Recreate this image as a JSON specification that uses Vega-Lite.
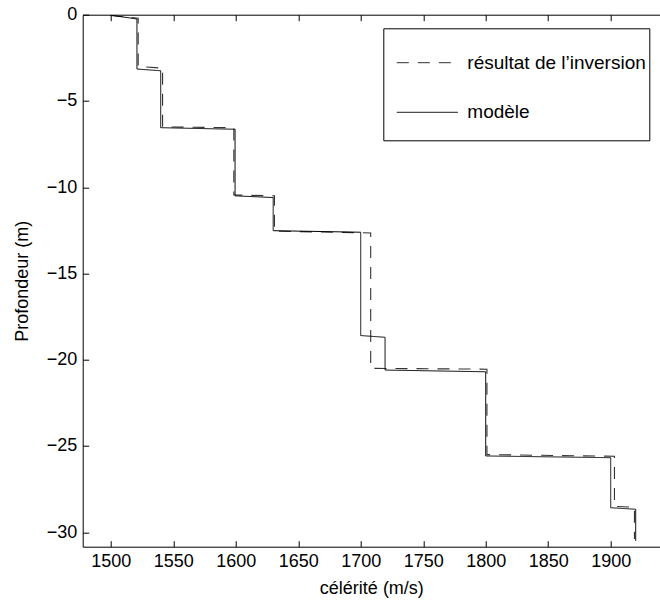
{
  "$schema": "https://vega.github.io/schema/vega-lite/v6.json",
  "autosize": "none",
  "width": 577.3,
  "height": 532,
  "padding": {"left": 82.7, "top": 14.7, "right": 0, "bottom": 54.3},
  "background": "white",
  "config": {
    "view": {"stroke": null},
    "font": "Liberation Sans",
    "axis": {
      "grid": false,
      "domainColor": "black",
      "domainWidth": 1,
      "tickColor": "black",
      "tickWidth": 1,
      "tickSize": -6,
      "labelColor": "black",
      "labelFont": "Liberation Sans",
      "labelFontSize": 18,
      "titleFont": "Liberation Sans",
      "titleFontSize": 18,
      "titleFontWeight": "normal",
      "titleColor": "black",
      "format": "d"
    },
    "legend": {
      "orient": "none",
      "legendX": 300.6,
      "legendY": 13.6,
      "strokeColor": "black",
      "strokeWidth": 1,
      "fillColor": "white",
      "padding": 3.4,
      "rowPadding": 8.6,
      "symbolOffset": 9.6,
      "symbolType": "stroke",
      "symbolSize": 3721,
      "symbolStrokeWidth": 1,
      "labelFont": "Liberation Sans",
      "labelFontSize": 19,
      "labelColor": "black",
      "labelOffset": 9,
      "labelLimit": 400,
      "titleOrient": "bottom",
      "titleFontSize": 10,
      "titlePadding": 4
    }
  },
  "data": {
    "values": [
      {"serie": "résultat de l’inversion", "i": 0, "x": 1500, "d": -0.05},
      {"serie": "résultat de l’inversion", "i": 1, "x": 1522, "d": -0.2},
      {"serie": "résultat de l’inversion", "i": 2, "x": 1522, "d": -3.0},
      {"serie": "résultat de l’inversion", "i": 3, "x": 1541.5, "d": -3.1},
      {"serie": "résultat de l’inversion", "i": 4, "x": 1541.5, "d": -6.5},
      {"serie": "résultat de l’inversion", "i": 5, "x": 1598.5, "d": -6.55},
      {"serie": "résultat de l’inversion", "i": 6, "x": 1598.5, "d": -10.45},
      {"serie": "résultat de l’inversion", "i": 7, "x": 1631, "d": -10.5},
      {"serie": "résultat de l’inversion", "i": 8, "x": 1631, "d": -12.55},
      {"serie": "résultat de l’inversion", "i": 9, "x": 1708, "d": -12.65},
      {"serie": "résultat de l’inversion", "i": 10, "x": 1708, "d": -20.5},
      {"serie": "résultat de l’inversion", "i": 11, "x": 1801, "d": -20.55},
      {"serie": "résultat de l’inversion", "i": 12, "x": 1801, "d": -25.5},
      {"serie": "résultat de l’inversion", "i": 13, "x": 1903, "d": -25.6},
      {"serie": "résultat de l’inversion", "i": 14, "x": 1903, "d": -28.5},
      {"serie": "résultat de l’inversion", "i": 15, "x": 1919, "d": -28.55},
      {"serie": "résultat de l’inversion", "i": 16, "x": 1919, "d": -30.4},
      {"serie": "modèle", "i": 0, "x": 1499.5, "d": -0.02},
      {"serie": "modèle", "i": 1, "x": 1521, "d": -0.25},
      {"serie": "modèle", "i": 2, "x": 1521, "d": -3.15},
      {"serie": "modèle", "i": 3, "x": 1540, "d": -3.25},
      {"serie": "modèle", "i": 4, "x": 1540, "d": -6.55},
      {"serie": "modèle", "i": 5, "x": 1599.5, "d": -6.64},
      {"serie": "modèle", "i": 6, "x": 1599.5, "d": -10.5},
      {"serie": "modèle", "i": 7, "x": 1630, "d": -10.6},
      {"serie": "modèle", "i": 8, "x": 1630, "d": -12.52},
      {"serie": "modèle", "i": 9, "x": 1700, "d": -12.61},
      {"serie": "modèle", "i": 10, "x": 1700, "d": -18.6},
      {"serie": "modèle", "i": 11, "x": 1719.5, "d": -18.7},
      {"serie": "modèle", "i": 12, "x": 1719.5, "d": -20.6},
      {"serie": "modèle", "i": 13, "x": 1800, "d": -20.7},
      {"serie": "modèle", "i": 14, "x": 1800, "d": -25.58},
      {"serie": "modèle", "i": 15, "x": 1900, "d": -25.68},
      {"serie": "modèle", "i": 16, "x": 1900, "d": -28.58},
      {"serie": "modèle", "i": 17, "x": 1920, "d": -28.67},
      {"serie": "modèle", "i": 18, "x": 1920, "d": -30.5}
    ]
  },
  "layer": [
    {
      "transform": [{"filter": "datum.serie === 'résultat de l’inversion'"}],
      "mark": {"type": "line", "strokeWidth": 1.1, "clip": true},
      "encoding": {
        "x": {"field": "x", "type": "quantitative",
              "scale": {"domain": [1477.6, 1939.44], "nice": false, "zero": false},
              "axis": {"orient": "top", "labels": false, "title": null, "values": [1500, 1550, 1600, 1650, 1700, 1750, 1800, 1850, 1900]}},
        "y": {"field": "d", "type": "quantitative",
              "scale": {"domain": [-30.84, 0], "nice": false, "zero": false},
              "axis": {"title": "Profondeur (m)", "values": [0, -5, -10, -15, -20, -25, -30], "labelPadding": 12, "titlePadding": 15}},
        "order": {"field": "i", "type": "quantitative"},
        "color": {"field": "serie", "type": "nominal",
                  "scale": {"domain": ["résultat de l’inversion", "modèle"], "range": ["#333333", "#000000"]},
                  "legend": {"title": " "}},
        "strokeDash": {"field": "serie", "type": "nominal",
                  "scale": {"domain": ["résultat de l’inversion", "modèle"], "range": [[12, 9], [1, 0]]},
                  "legend": {"title": " "}}
      }
    },
    {
      "transform": [{"filter": "datum.serie === 'modèle'"}],
      "mark": {"type": "line", "strokeWidth": 1, "clip": true},
      "encoding": {
        "x": {"field": "x", "type": "quantitative",
              "scale": {"domain": [1477.6, 1939.44], "nice": false, "zero": false},
              "axis": {"orient": "bottom", "title": "célérité (m/s)", "values": [1500, 1550, 1600, 1650, 1700, 1750, 1800, 1850, 1900], "labelPadding": 12, "titlePadding": 9}},
        "y": {"field": "d", "type": "quantitative",
              "scale": {"domain": [-30.84, 0], "nice": false, "zero": false}},
        "order": {"field": "i", "type": "quantitative"},
        "color": {"field": "serie", "type": "nominal",
                  "scale": {"domain": ["résultat de l’inversion", "modèle"], "range": ["#333333", "#000000"]},
                  "legend": {"title": " "}},
        "strokeDash": {"field": "serie", "type": "nominal",
                  "scale": {"domain": ["résultat de l’inversion", "modèle"], "range": [[12, 9], [1, 0]]},
                  "legend": {"title": " "}}
      }
    }
  ],
  "resolve": {"axis": {"x": "independent"}}
}
